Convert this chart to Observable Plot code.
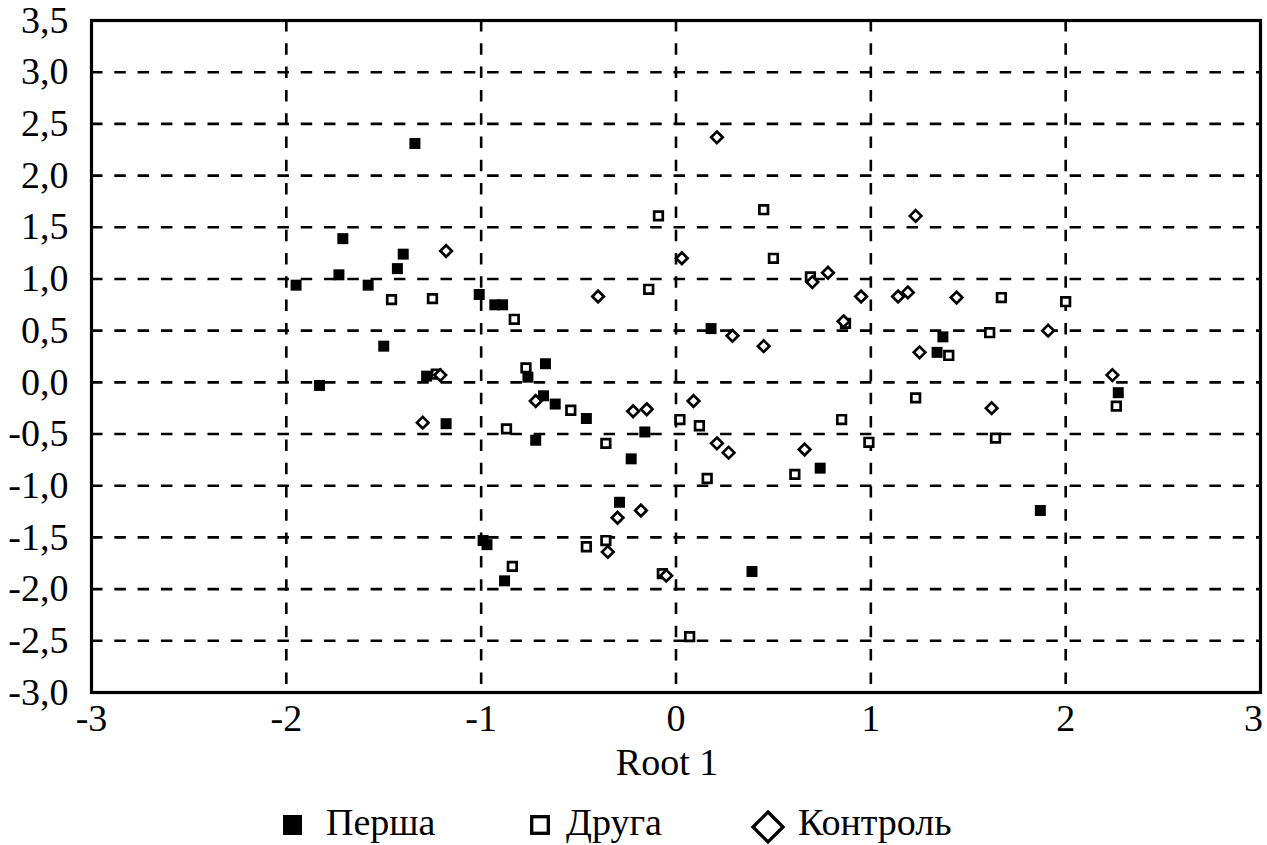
<!DOCTYPE html>
<html>
<head>
<meta charset="utf-8">
<script src="https://cdn.jsdelivr.net/npm/d3@7"></script>
<script src="https://cdn.jsdelivr.net/npm/@observablehq/plot@0.6"></script>
<style>
  html, body { margin: 0; padding: 0; background: #fff; overflow: hidden; }
  #chart svg { display: block; }
</style>
</head>
<body>
<div id="chart"></div>
<svg id="legend" width="1267" height="55" style="display:block" font-family="'Liberation Serif', 'DejaVu Serif', 'Times New Roman', serif" font-size="38"></svg>
<script>
// ---- Data ----
const groupNames = ["Перша", "Друга", "Контроль"];

const pershaX = [-1.34, -1.71, -1.40, -1.43, -1.73, -1.95, -1.58, -1.01, -0.93, -0.89, -1.50, -1.28, -1.83, -1.18,
                 -0.67, -0.76, -0.68, -0.62, -0.46, -0.72, -0.16, -0.23, -0.29, -0.99, -0.97, -0.88, 0.39, 0.74,
                 0.18, 1.37, 1.34, 2.27, 1.87];
const pershaY = [2.31, 1.39, 1.24, 1.10, 1.04, 0.94, 0.94, 0.85, 0.75, 0.75, 0.35, 0.06, -0.03, -0.40,
                 0.18, 0.05, -0.13, -0.21, -0.35, -0.56, -0.48, -0.74, -1.16, -1.53, -1.57, -1.92, -1.83, -0.83,
                 0.52, 0.44, 0.29, -0.10, -1.24];

const druhaX = [-1.46, -1.25, -1.23, -0.83, -0.77, -0.09, -0.14, 0.45, 0.50, 0.69, 0.87, 1.67, 2.00, 1.61,
                1.40, 1.23, 2.26, 1.64, 0.99, 0.85, 0.61, 0.16, 0.02, 0.12, -0.54, -0.87, -0.36, -0.46,
                -0.36, -0.84, 0.07, -0.07];
const druhaY = [0.80, 0.81, 0.08, 0.61, 0.14, 1.61, 0.90, 1.67, 1.20, 1.02, 0.57, 0.82, 0.78, 0.48,
                0.26, -0.15, -0.23, -0.54, -0.58, -0.36, -0.89, -0.93, -0.36, -0.42, -0.27, -0.45, -0.59, -1.59,
                -1.53, -1.78, -2.46, -1.85];

const kontrolX = [-1.18, -1.21, -1.30, 0.21, 0.03, 0.70, 0.78, 0.95, 0.86, -0.40, 0.29, 0.45, 1.23, 1.14,
                  1.19, 1.44, 1.91, 1.25, 2.24, 1.62, -0.72, -0.22, -0.15, 0.09, 0.21, 0.27, 0.66, -0.18,
                  -0.30, -0.35, -0.05];
const kontrolY = [1.27, 0.07, -0.39, 2.37, 1.20, 0.97, 1.06, 0.83, 0.59, 0.83, 0.45, 0.35, 1.61, 0.83,
                  0.87, 0.82, 0.50, 0.29, 0.07, -0.25, -0.18, -0.28, -0.26, -0.18, -0.59, -0.68, -0.65, -1.24,
                  -1.31, -1.64, -1.87];

const xTicks = [-3, -2, -1, 0, 1, 2, 3];
const yTicks = [-3.0, -2.5, -2.0, -1.5, -1.0, -0.5, 0.0, 0.5, 1.0, 1.5, 2.0, 2.5, 3.0, 3.5];
const xLabel = "Root 1";

// ---- Build tables ----
const persha = pershaX.map((x, i) => ({x, y: pershaY[i], g: groupNames[0]}));
const druha = druhaX.map((x, i) => ({x, y: druhaY[i], g: groupNames[1]}));
const kontrol = kontrolX.map((x, i) => ({x, y: kontrolY[i], g: groupNames[2]}));

const fmtY = d => d.toFixed(1).replace(".", ",");
const dash = "11.5,11.8";
const serif = "'Liberation Serif', 'DejaVu Serif', 'Times New Roman', serif";

const chart = Plot.plot({
  width: 1267,
  height: 790,
  marginLeft: 91,
  marginRight: 7,
  marginTop: 20,
  marginBottom: 98,
  style: {fontFamily: serif, fontSize: "38px", color: "black", background: "white"},
  x: {domain: [-3, 3]},
  y: {domain: [-3, 3.5]},
  marks: [
    Plot.gridX(xTicks.slice(1, -1), {stroke: "black", strokeOpacity: 1, strokeWidth: 2.6, strokeDasharray: dash}),
    Plot.gridY(yTicks.slice(1, -1), {stroke: "black", strokeOpacity: 1, strokeWidth: 2.6, strokeDasharray: dash}),
    Plot.axisX(xTicks.slice(0, -1), {tickSize: 0, tickPadding: 12, label: null, tickFormat: d => String(d)}),
    Plot.axisX(xTicks.slice(-1), {tickSize: 0, tickPadding: 12, label: null, dx: -7, tickFormat: d => String(d)}),
    Plot.axisY(yTicks, {tickSize: 0, tickPadding: 23, label: null, tickFormat: fmtY}),
    Plot.frame({stroke: "black", strokeWidth: 3.2}),
    Plot.dot(persha, {x: "x", y: "y", symbol: "square", r: 6.2, fill: "black", stroke: "none"}),
    Plot.dot(druha, {x: "x", y: "y", symbol: "square", r: 4.85, fill: "white", stroke: "black", strokeWidth: 2.7}),
    Plot.dot(kontrol, {x: "x", y: "y", symbol: "diamond2", r: 5.2, fill: "white", stroke: "black", strokeWidth: 2.7}),
    Plot.text([xLabel], {frameAnchor: "bottom", dy: 70, dx: -9, text: d => d, lineAnchor: "middle", fontSize: 38, fill: "black"})
  ]
});
document.getElementById("chart").appendChild(chart);

// ---- Legend ----
const legend = d3.select("#legend");
legend.append("rect").attr("x", 283).attr("y", 25).attr("width", 19).attr("height", 20).attr("fill", "black");
legend.append("text").attr("x", 326).attr("y", 45).text(groupNames[0]);
legend.append("rect").attr("x", 531.7).attr("y", 26.7).attr("width", 16.6).attr("height", 16.6)
  .attr("fill", "white").attr("stroke", "black").attr("stroke-width", 3.3);
legend.append("text").attr("x", 566).attr("y", 45).text(groupNames[1]);
legend.append("path").attr("d", "M768,22 L783,37 L768,52 L753,37 Z")
  .attr("fill", "white").attr("stroke", "black").attr("stroke-width", 3.3);
legend.append("text").attr("x", 798).attr("y", 45).text(groupNames[2]);
</script>
</body>
</html>
